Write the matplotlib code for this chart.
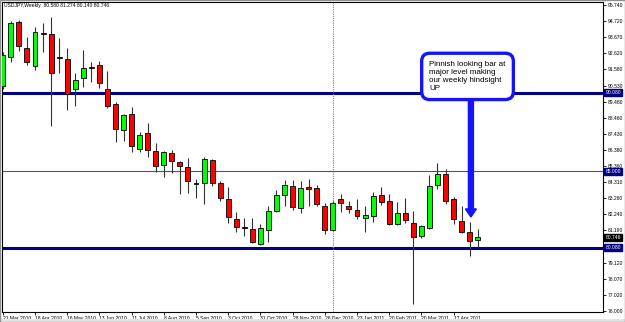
import numpy as np
import matplotlib
matplotlib.use("Agg")
import matplotlib.pyplot as plt
from matplotlib.patches import Rectangle, FancyArrow

plt.rcParams['font.family'] = ['Liberation Sans', 'DejaVu Sans']

# weekly USDJPY candles
opens = [90.51, 92.40, 94.66, 92.95, 91.82, 93.95, 93.87, 92.39, 92.24, 90.30,
         91.01, 91.74, 91.85, 90.30, 89.32, 87.68, 88.71, 86.47, 87.46, 86.32,
         85.40, 86.19, 85.59, 85.31, 84.19, 84.24, 85.74, 84.24, 83.24, 81.93,
         81.42, 81.27, 80.30, 81.22, 82.47, 83.50, 84.06, 82.62, 84.00, 83.91,
         82.77, 81.22, 83.22, 82.79, 82.51, 81.98, 82.13, 83.46, 83.10, 81.61,
         82.32, 81.66, 80.84, 81.37, 84.13, 84.84, 83.22, 81.80, 81.08, 80.58]
highs = [92.70, 94.71, 94.77, 93.70, 94.34, 94.60, 94.99, 93.63, 92.95, 91.37,
         92.84, 92.08, 92.13, 91.48, 89.46, 88.71, 89.14, 87.53, 88.11, 86.86,
         86.34, 86.38, 85.70, 85.87, 84.50, 85.91, 85.82, 84.40, 83.98, 82.37,
         81.98, 81.98, 81.61, 82.77, 83.80, 84.45, 84.45, 84.37, 84.51, 84.11,
         82.99, 83.10, 83.53, 83.11, 83.22, 82.77, 83.66, 83.98, 83.53, 83.05,
         83.31, 82.47, 81.55, 84.77, 85.53, 85.16, 83.35, 82.79, 81.71, 81.274]
lows = [90.30, 92.08, 92.79, 91.87, 91.55, 92.73, 87.93, 91.37, 88.97, 89.22,
        90.47, 90.79, 90.40, 89.11, 86.92, 86.98, 86.24, 86.28, 85.91, 84.99,
        84.66, 84.88, 83.55, 83.63, 83.31, 82.90, 84.06, 83.11, 81.69, 81.11,
        80.84, 80.41, 80.26, 80.47, 82.38, 82.77, 82.51, 82.32, 82.77, 82.77,
        80.95, 81.16, 82.41, 82.30, 81.93, 81.08, 81.76, 82.84, 81.55, 81.55,
        81.66, 76.45, 80.69, 81.27, 83.85, 82.92, 81.61, 81.01, 79.57, 80.14]
closes = [92.51, 94.56, 93.11, 92.08, 94.02, 93.87, 91.37, 92.29, 89.98, 90.88,
          91.66, 91.64, 90.69, 89.24, 87.76, 88.64, 86.64, 87.33, 86.38, 85.37,
          86.24, 85.66, 85.33, 84.37, 84.19, 85.79, 84.24, 83.29, 82.08, 81.44,
          81.38, 80.47, 81.33, 82.45, 83.48, 84.13, 82.69, 83.91, 83.85, 82.87,
          81.22, 82.99, 82.99, 82.56, 82.15, 82.19, 83.44, 83.05, 81.61, 82.30,
          81.87, 80.75, 81.48, 84.08, 84.84, 83.10, 81.91, 81.08, 80.53, 80.746]

date_labels = ["21 Mar 2010", "18 Apr 2010", "16 May 2010", "13 Jun 2010",
               "11 Jul 2010", "8 Aug 2010", "5 Sep 2010", "3 Oct 2010",
               "31 Oct 2010", "28 Nov 2010", "26 Dec 2010", "23 Jan 2011",
               "20 Feb 2011", "20 Mar 2011", "17 Apr 2011"]

price_ticks = [95.74, 94.72, 93.67, 92.62, 91.58, 90.53, 89.48, 88.46, 87.43,
               86.38, 85.36, 84.31, 83.26, 82.24, 81.19, 80.14, 79.12, 78.07,
               77.02, 76.00]

level_lines = [90.08, 85.00, 80.08]
last_price = 80.746
separator_bar = 41
note_text = "Pinnish looking bar at\nmajor level making\nour weekly hindsight\nUP"

W, H = 625, 322
fig = plt.figure(figsize=(W / 100, H / 100), dpi=100)
ax = fig.add_axes([2 / W, 10 / H, 601 / W, 310 / H])

x = np.arange(len(opens))
o = np.array(opens)
c = np.array(closes)
body_bottom = np.minimum(o, c)
body_height = np.maximum(np.abs(c - o), 0.05)
colors = ["#00ff00" if cc >= oo else "#ff0000" for oo, cc in zip(o, c)]

ax.vlines(x, lows, highs, color="#333333", linewidth=0.8, zorder=2)
ax.bar(x, body_height, bottom=body_bottom, width=0.62, color=colors,
       edgecolor="black", linewidth=0.6, zorder=3)

# support / resistance levels
ax.axhline(level_lines[0], color="#000080", linewidth=2.2, zorder=1)
ax.axhline(level_lines[1], color="#4b4ba6", linewidth=0.8, zorder=1)
ax.axhline(level_lines[2], color="#000080", linewidth=2.2, zorder=1)
ax.axvline(separator_bar, color="#808080", linestyle=(0, (1, 1)),
           linewidth=0.8, zorder=1)

ax.set_xlim(-0.1, 74.56)
ax.set_ylim(75.93, 95.93)

# price axis on the right
ax.yaxis.tick_right()
ax.set_yticks(price_ticks)
ax.set_yticklabels([f"{p:.3f}" for p in price_ticks])
ax.tick_params(axis="y", direction="out", length=2, width=0.6,
               labelsize=3.6, pad=1.2)

ax.set_xticks(np.arange(0, len(opens), 4))
ax.set_xticklabels(date_labels, ha="left")
ax.tick_params(axis="x", direction="out", length=2, width=0.6,
               labelsize=3.6, pad=1.0)

for spine in ax.spines.values():
    spine.set_linewidth(0.8)
    spine.set_color("black")

# highlighted price labels
ytr = ax.get_yaxis_transform()
for lvl in level_lines:
    ax.text(1.004, lvl, f"{lvl:.3f}", transform=ytr, fontsize=3.6,
            color="white", va="center", ha="left",
            bbox=dict(boxstyle="square,pad=0.25", fc="#000080", ec="#000080"))
ax.text(1.004, last_price, f"{last_price:.3f}", transform=ytr, fontsize=3.6,
        color="white", va="center", ha="left",
        bbox=dict(boxstyle="square,pad=0.25", fc="black", ec="black"))

# annotation box and arrow
ax.text(57.73, 91.13, note_text, fontsize=5.8, linespacing=1.2,
        va="center", ha="center", multialignment="left", zorder=6,
        bbox=dict(boxstyle="round,pad=0.95,rounding_size=1.0", fc="white",
                  ec="#1414ff", linewidth=2.4))
ax.add_patch(FancyArrow(58.15, 89.61, 0, 82.06 - 89.61, width=0.62,
                        head_width=1.37, head_length=0.52,
                        length_includes_head=True, color="#1414ff", zorder=5))

fig.text(4 / W, 1 - 6 / H, "USDJPY,Weekly  80.580 81.274 80.140 80.746",
         fontsize=3.6, va="center", ha="left")

# window frame
fig.patches.append(Rectangle((0, 0), 1, 3 / H, transform=fig.transFigure,
                             fc="#e4e4e4", ec="none"))
fig.patches.append(Rectangle((0, 0), 1, 1, transform=fig.transFigure,
                             fill=False, ec="#909090", linewidth=1))

fig.savefig("out.png", dpi=100)
